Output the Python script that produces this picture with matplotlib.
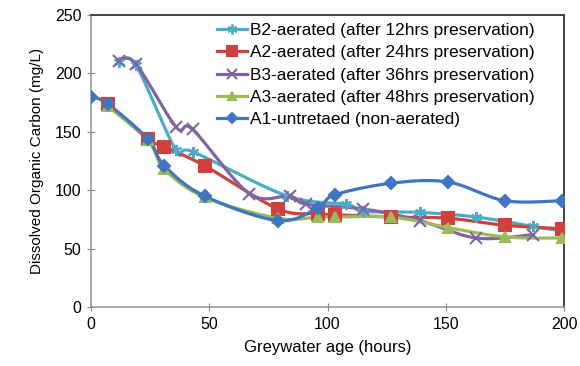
import numpy as np
import matplotlib
matplotlib.use('Agg')
import matplotlib.pyplot as plt
from matplotlib.lines import Line2D

plt.rcParams['font.family'] = ['Liberation Sans', 'DejaVu Sans']

# dati
b2_x = [12, 19, 36, 43, 83, 108, 115, 139, 163, 187, 199]
b2_y = [210, 207, 134, 133, 95, 88, 82, 81, 77, 69, 65]
a2_x = [7, 24, 31, 48, 79, 96, 103, 127, 151, 175, 199]
a2_y = [174, 144, 137, 121, 84, 80, 79, 77, 76, 70, 67]
b3_x = [12, 19, 36, 43, 67, 84, 91, 115, 139, 163, 187]
b3_y = [211, 208, 154, 152, 97, 95, 88, 84, 74, 59, 62]
a3_x = [7, 24, 31, 48, 79, 96, 103, 127, 151, 175, 199]
a3_y = [172, 143, 118, 94, 76, 77, 77, 77, 68, 60, 59]
a1_x = [0, 7, 24, 31, 48, 79, 96, 103, 127, 151, 175, 199]
a1_y = [180, 174, 144, 121, 95, 74, 85, 96, 106, 107, 91, 91]

labels = ['B2-aerated (after 12hrs preservation)',
          'A2-aerated (after 24hrs preservation)',
          'B3-aerated (after 36hrs preservation)',
          'A3-aerated (after 48hrs preservation)',
          'A1-untretaed (non-aerated)']
colors = ['#4BACC6', '#D0403C', '#8064A2', '#9BBB59', '#3F76BF']
markers = [(6, 2, 0), 's', 'x', '^', 'D']
msizes = [8, 8, 8, 7, 6]


def smooth(x, y, n=24):
    # linea smussata tipo Excel (Bezier con punti di controllo Catmull-Rom)
    p = np.column_stack([x, y]).astype(float)
    ext = np.vstack([p[0], p, p[-1]])
    out = []
    for i in range(len(p) - 1):
        p0, p1, p2, p3 = ext[i], ext[i + 1], ext[i + 2], ext[i + 3]
        c1 = p1 + (p2 - p0) / 6
        c2 = p2 - (p3 - p1) / 6
        t = np.linspace(0, 1, n)[:, None]
        seg = (1 - t) ** 3 * p1 + 3 * (1 - t) ** 2 * t * c1 + 3 * (1 - t) * t ** 2 * c2 + t ** 3 * p2
        out.append(seg)
    s = np.vstack(out)
    return s[:, 0], s[:, 1]


fig = plt.figure(figsize=(5.8, 3.66), dpi=100)
ax = fig.add_axes([91 / 580, 1 - 307 / 366, 473 / 580, 292 / 366])

series = [(b2_x, b2_y), (a2_x, a2_y), (b3_x, b3_y), (a3_x, a3_y), (a1_x, a1_y)]
handles = []
order = [3, 1, 0, 2, 4]  # ordine di disegno
for k in order:
    xs, ys = series[k]
    sx, sy = smooth(xs, ys)
    ax.plot(sx, sy, color=colors[k], lw=2.3, zorder=2 + k * 0.1)
    ax.plot(xs, ys, linestyle='none', marker=markers[k], ms=msizes[k],
            color=colors[k], mec=colors[k], mew=1.5, zorder=3 + k * 0.1)
for k in range(5):
    handles.append(Line2D([], [], color=colors[k], lw=2.3, marker=markers[k],
                          ms=msizes[k] - 1, mew=1.5))

ax.set_xlim(0, 200)
ax.set_ylim(0, 250)
ax.set_xticks([0, 50, 100, 150, 200])
ax.set_yticks([0, 50, 100, 150, 200, 250])
ax.tick_params(direction='inout', length=6, color='#888888', labelsize=11.5, pad=4)
for s in ['left', 'bottom']:
    ax.spines[s].set_color('#999999')
    ax.spines[s].set_linewidth(1.2)
for s in ['top', 'right']:
    ax.spines[s].set_color('#444444')
    ax.spines[s].set_linewidth(1.4)
ax.set_xlabel('Greywater age (hours)', fontsize=12, labelpad=6)
ax.set_ylabel('Dissolved Organic Carbon (mg/L)', fontsize=11, labelpad=8)

leg = ax.legend(handles, labels, loc='upper left', bbox_to_anchor=(217 / 580, 1 - 23 / 366),
                bbox_transform=fig.transFigure, fontsize=12.4, frameon=False,
                handlelength=1.75, handletextpad=0.15, labelspacing=0.42, borderpad=0,
                borderaxespad=0)

plt.savefig('out.png', dpi=100)
